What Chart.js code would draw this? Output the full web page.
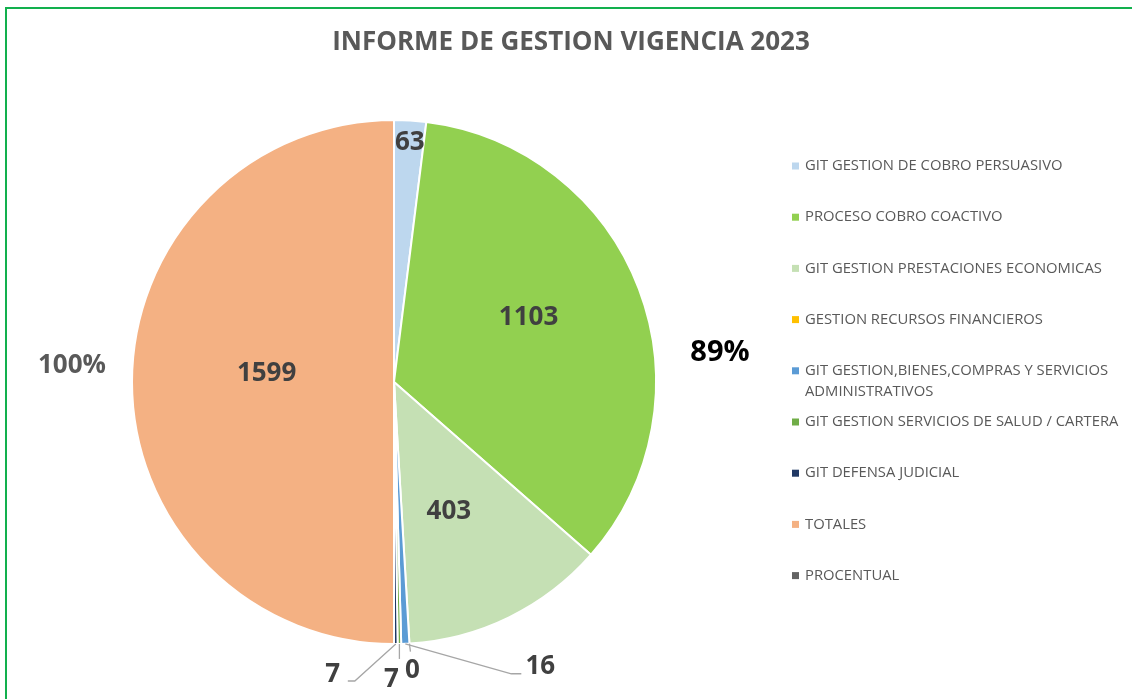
<!DOCTYPE html>
<html lang="es">
<head>
<meta charset="utf-8">
<title>Informe de gestion vigencia 2023</title>
<script src="https://cdn.jsdelivr.net/npm/chart.js@4.4.1/dist/chart.umd.min.js"></script>
<style>
    html, body { margin: 0; padding: 0; background: #fff; overflow: hidden; }
    #wrap { position: relative; width: 1132px; height: 699px; }
    #frame {
        position: absolute; left: 5px; top: 7px; width: 1140px; height: 710px;
        border: 2px solid #12B04E; box-sizing: border-box; pointer-events: none;
    }
    #informeChart { position: absolute; left: 0; top: 0; }
</style>
</head>
<body>
<div id="wrap">
    <canvas id="informeChart" width="1132" height="699"></canvas>
    <div id="frame"></div>
</div>
<script>
const chartTitle = 'INFORME DE GESTION VIGENCIA 2023';

const categories = [
    'GIT GESTION DE COBRO PERSUASIVO',
    'PROCESO COBRO COACTIVO',
    'GIT GESTION PRESTACIONES ECONOMICAS',
    'GESTION RECURSOS FINANCIEROS',
    'GIT GESTION,BIENES,COMPRAS Y SERVICIOS ADMINISTRATIVOS',
    'GIT GESTION SERVICIOS DE SALUD / CARTERA',
    'GIT DEFENSA JUDICIAL',
    'TOTALES',
    'PROCENTUAL'
];

const counts = [63, 1103, 403, 0, 16, 7, 7, 1599, 0];

// percentage notes written beside the pie
const percentNotes = ['100%', '89%'];

const sliceColors = [
    '#BDD7EE', // cobro persuasivo
    '#92D050', // cobro coactivo
    '#C5E0B4', // prestaciones economicas
    '#FFC000', // recursos financieros
    '#5B9BD5', // bienes, compras
    '#70AD47', // salud / cartera
    '#203864', // defensa judicial
    '#F4B183', // totales
    '#636363'  // procentual
];

// where each value label goes: inside the slice (fraction of radius, plus nudge)
// or outside with a leader line (offsets from the slice's outer edge)
const labelPlacement = [
    { inside: 0.915, dx: 1, dy: 0 },
    { inside: 0.57, dx: -5, dy: -11 },
    { inside: 0.52, dx: -5, dy: 7 },
    { dx: 3, dy: 27, line: [[1, 8]] },
    { dx: 135, dy: 23, line: [[106, 30], [116, 30]] },
    { dx: -8, dy: 36, line: [[0, 15]] },
    { dx: -63, dy: 31, line: [[-41, 37], [-48, 37]] },
    { inside: 0.49, dx: 1, dy: -8 },
    null
];

const FONT = '"Open Sans", "Noto Sans", sans-serif';

const decorPlugin = {
    id: 'decor',
    afterDraw(chart) {
        const ctx = chart.ctx;
        const meta = chart.getDatasetMeta(0);
        const values = chart.data.datasets[0].data;
        ctx.save();

        // title
        ctx.fillStyle = '#595959';
        ctx.font = 'bold 26px ' + FONT;
        ctx.textAlign = 'center';
        ctx.textBaseline = 'middle';
        ctx.fillText(chartTitle, 571, 43);

        // value labels
        meta.data.forEach((arc, i) => {
            const place = labelPlacement[i];
            if (!place) return;
            const p = arc.getProps(['x', 'y', 'startAngle', 'endAngle', 'outerRadius'], true);
            const mid = (p.startAngle + p.endAngle) / 2;
            const ex = p.x + Math.cos(mid) * p.outerRadius;
            const ey = p.y + Math.sin(mid) * p.outerRadius;
            let tx, ty;
            if (place.inside !== undefined) {
                tx = p.x + Math.cos(mid) * p.outerRadius * place.inside + place.dx;
                ty = p.y + Math.sin(mid) * p.outerRadius * place.inside + place.dy;
            } else {
                tx = ex + place.dx;
                ty = ey + place.dy;
                ctx.strokeStyle = '#A6A6A6';
                ctx.lineWidth = 1.3;
                ctx.beginPath();
                ctx.moveTo(ex, ey);
                place.line.forEach(pt => ctx.lineTo(ex + pt[0], ey + pt[1]));
                ctx.stroke();
            }
            ctx.fillStyle = '#404040';
            ctx.font = 'bold 26px ' + FONT;
            ctx.textAlign = 'center';
            ctx.textBaseline = 'middle';
            ctx.fillText(String(values[i]), tx, ty);
        });

        // percentage notes
        ctx.font = 'bold 26px ' + FONT;
        ctx.fillStyle = '#595959';
        ctx.fillText(percentNotes[0], 72, 366);
        ctx.font = 'bold 29px ' + FONT;
        ctx.fillStyle = '#000000';
        ctx.fillText(percentNotes[1], 720, 353);

        // legend, fixed slots down the right side
        ctx.font = '14.8px ' + FONT;
        ctx.textAlign = 'left';
        ctx.textBaseline = 'middle';
        const colors = chart.data.datasets[0].backgroundColor;
        chart.data.labels.forEach((label, i) => {
            const y = 166 + i * 51.2;
            ctx.fillStyle = colors[i];
            ctx.fillRect(792, y - 3.5, 7, 7);
            ctx.fillStyle = '#595959';
            // wrap long entries
            const words = label.split(' ');
            let line = '';
            let ly = y;
            words.forEach(w => {
                const test = line ? line + ' ' + w : w;
                if (ctx.measureText(test).width > 320 && line) {
                    ctx.fillText(line, 805, ly);
                    line = w;
                    ly += 21;
                } else {
                    line = test;
                }
            });
            ctx.fillText(line, 805, ly);
        });

        ctx.restore();
    }
};

const ctx = document.getElementById('informeChart').getContext('2d');

const informeChart = new Chart(ctx, {
    type: 'pie',
    data: {
        labels: categories,
        datasets: [{
            data: counts,
            backgroundColor: sliceColors,
            borderColor: '#ffffff',
            borderWidth: 2
        }]
    },
    options: {
        responsive: false,
        animation: false,
        layout: {
            padding: { left: 131, right: 475, top: 119, bottom: 54 }
        },
        plugins: {
            legend: { display: false },
            title: { display: false },
            tooltip: { enabled: false }
        }
    },
    plugins: [decorPlugin]
});
</script>
</body>
</html>
